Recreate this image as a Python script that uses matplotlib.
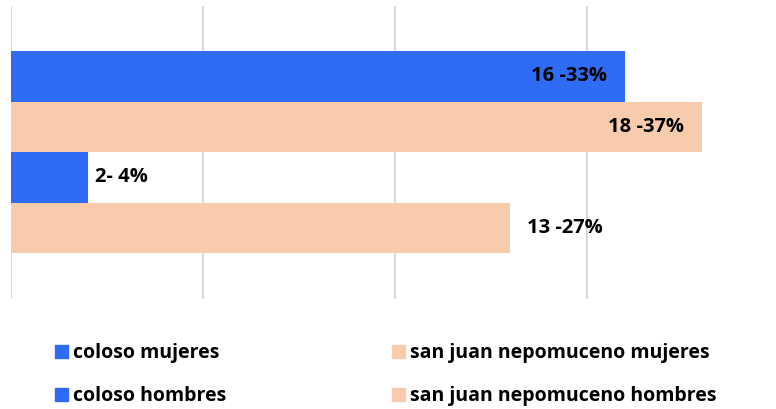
import matplotlib.pyplot as plt
from matplotlib.patches import Patch

plt.rcParams['font.family'] = ['Open Sans', 'DejaVu Sans']

series = ["coloso mujeres", "san juan nepomuceno mujeres",
          "coloso hombres", "san juan nepomuceno hombres"]
values = [16, 18, 2, 13]
labels = ["16 -33%", "18 -37%", "2- 4%", "13 -27%"]

blue = "#2F6CF6"
peach = "#F8CBAD"
colors = [blue, peach, blue, peach]

fig = plt.figure(figsize=(7.76, 4.09), dpi=100)
ax = fig.add_axes([11 / 776, 1 - 299 / 409, 768 / 776, 293 / 409])

ypos = list(range(len(values)))
ax.barh(ypos, values, height=1.0, color=colors, zorder=2)

ax.set_xlim(0, 20)
ax.set_ylim(3.5 + 46 / 50.5, -0.5 - 45 / 50.5)

for x in [0, 5, 10, 15, 20]:
    ax.axvline(x, color="#d9d9d9", lw=1.5, zorder=1)

# inside labels right-aligned, outside labels left of bar end (offset in points)
pads = [-13, -13, 5, 12]
for y, v, t, p in zip(ypos, values, labels, pads):
    ax.annotate(t, (v, y), xytext=(p, 0), textcoords="offset points",
                ha="right" if p < 0 else "left", va="center",
                fontsize=14.5, fontweight="bold", zorder=3)

for s in ax.spines.values():
    s.set_visible(False)
ax.set_xticks([])
ax.set_yticks([])

handles = [Patch(color=c) for c in colors]
order = [0, 2, 1, 3]
fig.legend([handles[i] for i in order], [series[i] for i in order],
           ncol=2, loc="upper left", bbox_to_anchor=(55 / 776, 1 - 343 / 409),
           frameon=False, handlelength=0.65, handleheight=0.65,
           handletextpad=0.3, columnspacing=8.5, labelspacing=1.2,
           borderaxespad=0, borderpad=0,
           prop={"weight": "bold", "size": 14})

fig.savefig("out.png", dpi=100)
